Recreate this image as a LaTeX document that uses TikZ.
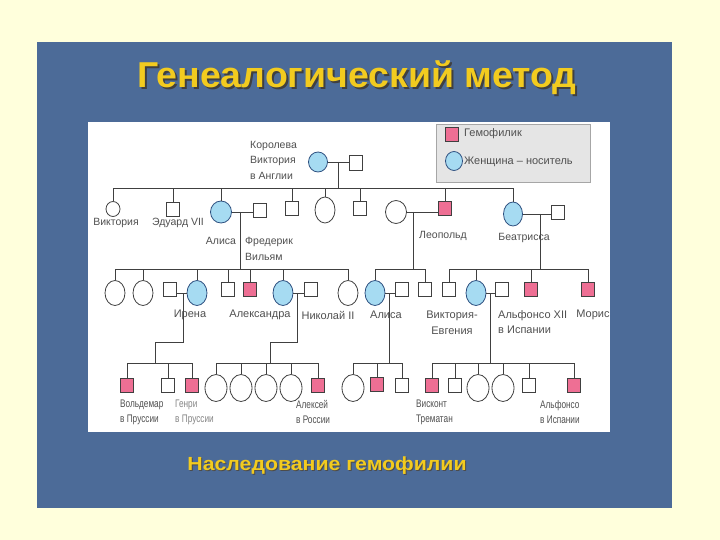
\documentclass[tikz,border=0pt]{standalone}
\usepackage{fontspec}
\setmainfont{Liberation Sans}
\usetikzlibrary{shapes.geometric}
\definecolor{cream}{HTML}{FFFFDC}
\definecolor{panel}{HTML}{4C6B98}
\definecolor{ttl}{HTML}{F2CB1F}
\definecolor{pinkf}{HTML}{EE6F94}
\definecolor{bluef}{HTML}{A6DBF2}
\definecolor{blueb}{HTML}{2D4F7F}
\definecolor{linec}{HTML}{404040}
\definecolor{txt}{HTML}{505050}
\begin{document}
\begin{tikzpicture}[x=1pt,y=-1pt,
 ln/.style={draw=linec,line width=0.8pt},
 sq/.style={rectangle,draw=linec,line width=0.8pt,fill=white,minimum width=13pt,minimum height=14pt,inner sep=0pt},
 hsq/.style={sq,fill=pinkf},
 ci/.style={ellipse,draw=linec,line width=0.8pt,fill=white,minimum width=20pt,minimum height=25pt,inner sep=0pt},
 car/.style={ci,fill=bluef,draw=blueb},
 c4/.style={ci,minimum width=22pt,minimum height=27pt},
 lbl/.style={font=\fontsize{10.5}{15.5}\selectfont,text=txt,inner sep=0pt},
 lbll/.style={lbl,anchor=west,align=left},
 l3/.style={lbl,font=\fontsize{11}{15.5}\selectfont},
 l4/.style={lbll,font=\fontsize{11}{15}\selectfont,xscale=0.75},
 ttlf/.style={font=\bfseries\fontsize{36}{40}\selectfont,xscale=1.04},
 capf/.style={font=\bfseries\fontsize{19}{22}\selectfont,xscale=1.12},
]
\useasboundingbox (0,0) rectangle (720,540);
\fill[cream] (0,0) rectangle (720,540);
\fill[panel] (37,42) rectangle (672,508);
\fill[white] (88,122) rectangle (610,432);

% title and caption (with drop shadows)
\node[ttlf,text=black!75] (tsh) at (359,80) {Генеалогический метод};
\node[ttlf,text=ttl] (title) at (357,78) {Генеалогический метод};
\node[capf,text=black!70] (csh) at (328,467) {Наследование гемофилии};
\node[capf,text=ttl] (cap) at (327,466) {Наследование гемофилии};

% legend
\node[draw=gray!70,fill=gray!20,minimum width=154pt,minimum height=58pt,anchor=north west,inner sep=0pt] (leg) at (436,124) {};
\node[hsq] (legp) at (452,134) {};
\node[lbll,font=\fontsize{11}{13}\selectfont] (legpt) at (464,134) {Гемофилик};
\node[car,minimum width=17pt,minimum height=19pt] (legb) at (454,161) {};
\node[lbll,font=\fontsize{11}{13}\selectfont] (legbt) at (464,162) {Женщина – носитель};

% generation I
\node[car,minimum width=19pt,minimum height=20pt] (qv) at (318,162) {};
\node[sq,minimum height=15pt] (qh) at (356,163) {};
\draw[ln] (qv.east) -- (qv.east -| qh.west);
\coordinate (d1) at (338,162);
\coordinate (s1) at (0,188);
\draw[ln] (d1) -- (d1 |- s1);

% generation II
\node[ci,minimum width=14pt,minimum height=15pt] (vic) at (113,209) {};
\node[sq] (edw) at (173,209) {};
\node[car,minimum width=21pt,minimum height=22pt] (ali) at (221,212) {};
\node[sq] (fre) at (260,210) {};
\node[sq] (s2a) at (292,208) {};
\node[ci,minimum width=20pt,minimum height=26pt] (c2a) at (325,210) {};
\node[sq] (s2b) at (360,208) {};
\node[ci,minimum width=21pt,minimum height=23pt] (leow) at (396,212) {};
\node[hsq] (leo) at (445,208) {};
\node[car,minimum width=19pt,minimum height=24pt] (bea) at (513,214) {};
\node[sq] (beh) at (558,212) {};
\draw[ln] (vic.north |- s1) -- (bea.north |- s1);
\foreach \n in {vic,edw,ali,s2a,c2a,s2b,leo,bea} \draw[ln] (\n.north) -- (\n.north |- s1);
\draw[ln] (ali.east) -- (ali.east -| fre.west);
\draw[ln] (leow.east) -- (leow.east -| leo.west);
\draw[ln] (bea.east) -- (bea.east -| beh.west);
\coordinate (s2) at (0,269);
\coordinate (d2a) at (240,212);
\coordinate (d2b) at (413,212);
\coordinate (d2c) at (540,214);
\foreach \d in {d2a,d2b,d2c} \draw[ln] (\d) -- (\d |- s2);

% generation I/II labels
\node[lbll] (lqv) at (250,160) {Королева\\Виктория\\в Англии};
\node[lbl] (lvic) at (116,223) {Виктория};
\node[lbl] (ledw) at (178,223) {Эдуард VII};
\node[lbl] (lali) at (221,241) {Алиса};
\node[lbll] (lfre) at (245,249) {Фредерик\\Вильям};
\node[lbl] (lleo) at (443,236) {Леопольд};
\node[lbl] (lbea) at (524,238) {Беатрисса};

% generation III
\node[ci] (c3a) at (115,293) {};
\node[ci] (c3b) at (143,293) {};
\node[sq] (irh) at (170,289) {};
\node[car] (ire) at (197,293) {};
\node[sq] (s3a) at (228,289) {};
\node[hsq] (h3a) at (250,289) {};
\node[car] (alx) at (283,293) {};
\node[sq] (nic) at (311,289) {};
\node[ci] (c3c) at (348,293) {};
\node[car] (al3) at (375,293) {};
\node[sq] (alh) at (402,289) {};
\node[sq] (s3c) at (425,289) {};
\node[sq] (s3d) at (449,289) {};
\node[car] (ve) at (476,293) {};
\node[sq] (afh) at (502,289) {};
\node[hsq] (a12) at (531,289) {};
\node[hsq] (mor) at (588,289) {};
\draw[ln] (c3a.north |- s2) -- (c3c.north |- s2);
\draw[ln] (al3.north |- s2) -- (s3c.north |- s2);
\draw[ln] (s3d.north |- s2) -- (mor.north |- s2);
\foreach \n in {c3a,c3b,ire,s3a,h3a,alx,c3c,al3,s3c,s3d,ve,a12,mor} \draw[ln] (\n.north) -- (\n.north |- s2);
\draw[ln] (ire.west) -- (ire.west -| irh.east);
\draw[ln] (alx.east) -- (alx.east -| nic.west);
\draw[ln] (al3.east) -- (al3.east -| alh.west);
\draw[ln] (ve.east) -- (ve.east -| afh.west);
\coordinate (s3) at (0,363);
\coordinate (d3a) at (183,293);
\coordinate (k3a) at (155,342);
\coordinate (d3b) at (297,293);
\coordinate (k3b) at (270,342);
\coordinate (d3c) at (389,293);
\coordinate (d3d) at (490,293);
\draw[ln] (d3a) -- (d3a |- k3a) -- (k3a) -- (k3a |- s3);
\draw[ln] (d3b) -- (d3b |- k3b) -- (k3b) -- (k3b |- s3);
\draw[ln] (d3c) -- (d3c |- s3);
\draw[ln] (d3d) -- (d3d |- s3);

% generation III labels
\node[l3] (lire) at (190,315) {Ирена};
\node[l3] (lalx) at (260,315) {Александра};
\node[l3] (lnic) at (328,315) {Николай II};
\node[l3] (lal3) at (386,315) {Алиса};
\node[l3,align=center] (lve) at (452,323) {Виктория-\\Евгения};
\node[l3,anchor=west,align=left] (la12) at (498,322) {Альфонсо XII\\в Испании};
\node[l3] (lmor) at (593,315) {Морис};

% generation IV
\node[hsq] (wol) at (127,385) {};
\node[sq] (s4a) at (168,385) {};
\node[hsq] (hen) at (192,385) {};
\node[c4] (c4a) at (216,388) {};
\node[c4] (c4b) at (241,388) {};
\node[c4] (c4c) at (266,388) {};
\node[c4] (c4d) at (291,388) {};
\node[hsq] (alk) at (318,385) {};
\node[c4] (c4e) at (353,388) {};
\node[hsq] (h4a) at (377,384) {};
\node[sq] (s4b) at (402,385) {};
\node[hsq] (vis) at (432,385) {};
\node[sq] (s4c) at (455,385) {};
\node[c4] (c4f) at (478,388) {};
\node[c4] (c4g) at (503,388) {};
\node[sq] (s4d) at (529,385) {};
\node[hsq] (alf) at (574,385) {};
\draw[ln] (wol.north |- s3) -- (hen.north |- s3);
\draw[ln] (c4a.north |- s3) -- (alk.north |- s3);
\draw[ln] (c4e.north |- s3) -- (s4b.north |- s3);
\draw[ln] (vis.north |- s3) -- (alf.north |- s3);
\foreach \n in {wol,s4a,hen,c4a,c4b,c4c,c4d,alk,c4e,h4a,s4b,vis,s4c,c4f,c4g,s4d,alf} \draw[ln] (\n.north) -- (\n.north |- s3);

% generation IV labels
\node[l4] (lwol) at (120,412) {Вольдемар\\в Пруссии};
\node[l4,text=txt!70] (lhen) at (175,412) {Генри\\в Пруссии};
\node[l4] (lalk) at (296,412) {Алексей\\в России};
\node[l4] (lvis) at (416,412) {Висконт\\Трематан};
\node[l4] (lalf) at (540,412) {Альфонсо\\в Испании};
\end{tikzpicture}
\end{document}
